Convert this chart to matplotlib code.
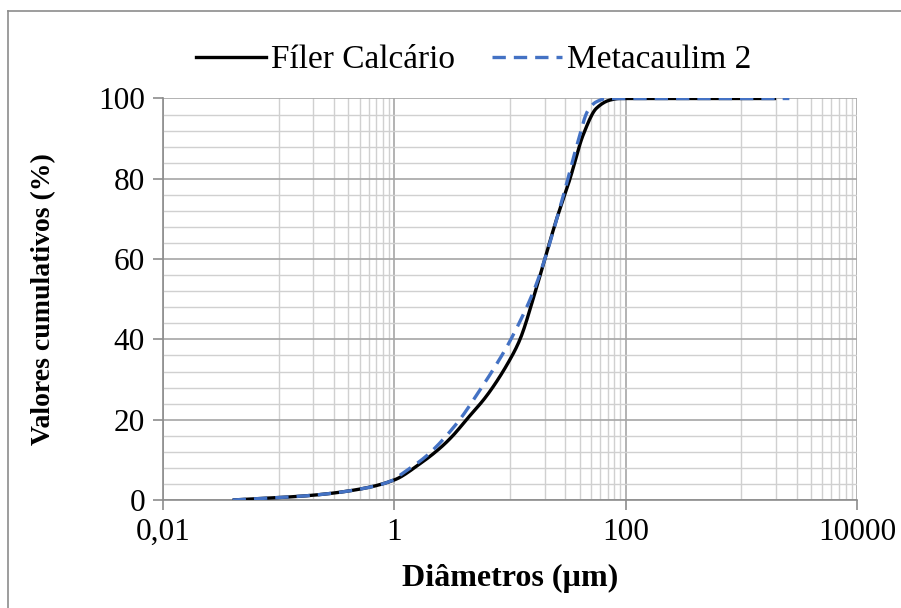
import matplotlib
matplotlib.use("Agg")
import matplotlib.pyplot as plt
from matplotlib.lines import Line2D
import numpy as np

plt.rcParams['font.family'] = ['Liberation Serif', 'DejaVu Serif']

# Particle size distributions (diameter in µm, cumulative %)
filer_d = [0.04, 0.1, 0.2, 0.5, 1.0, 1.66, 2.5, 3.2, 4.2, 6.3, 10, 12.2,
           16.4, 20, 25, 33, 43, 56, 73, 89, 100, 200, 500, 1000, 2000]
filer_v = [0, 0.6, 1.2, 2.7, 5.0, 9.0, 13.0, 16.0, 20.0, 26.0, 35.0, 40.0,
           51.5, 60, 69.5, 80, 91, 97.6, 99.6, 100, 100, 100, 100, 100, 100]

meta_d = [0.04, 0.1, 0.2, 0.5, 1.0, 1.1, 1.9, 3.45, 5.5, 8.7, 10.3,
          16.4, 20, 29.8, 37.6, 47.4, 56, 69, 100, 1000, 2600]
meta_v = [0, 0.6, 1.2, 2.7, 5.1, 6.0, 11.0, 19.0, 27.4, 36.5, 40.3,
          52.8, 60, 77.2, 88, 97.1, 99.2, 100, 100, 100, 100]

series_names = ["Fíler Calcário", "Metacaulim 2"]
x_ticks = [0.01, 1, 100, 10000]
x_tick_labels = ["0,01", "1", "100", "10000"]
y_ticks = [0, 20, 40, 60, 80, 100]


def smooth_log(d, v, n=400):
    """Monotone cubic (Fritsch-Carlson) curve through the points, in log-diameter."""
    x = np.log10(np.asarray(d, float))
    y = np.asarray(v, float)
    h = np.diff(x)
    delta = np.diff(y) / h
    m = np.zeros_like(y)
    m[0], m[-1] = delta[0], delta[-1]
    for i in range(1, len(y) - 1):
        if delta[i - 1] * delta[i] <= 0:
            m[i] = 0.0
        else:
            w1 = 2 * h[i] + h[i - 1]
            w2 = h[i] + 2 * h[i - 1]
            m[i] = (w1 + w2) / (w1 / delta[i - 1] + w2 / delta[i])
    xs = np.linspace(x[0], x[-1], n)
    idx = np.clip(np.searchsorted(x, xs) - 1, 0, len(h) - 1)
    t = (xs - x[idx]) / h[idx]
    h00 = 2 * t**3 - 3 * t**2 + 1
    h10 = t**3 - 2 * t**2 + t
    h01 = -2 * t**3 + 3 * t**2
    h11 = t**3 - t**2
    ys = (h00 * y[idx] + h10 * h[idx] * m[idx] + h01 * y[idx + 1]
          + h11 * h[idx] * m[idx + 1])
    return 10 ** xs, ys


W, H = 901, 608
fig = plt.figure(figsize=(W / 100, H / 100), dpi=100)
ax = fig.add_axes([163 / W, (H - 500) / H, (857 - 163) / W, (500 - 98.5) / H])

blue = '#4472C4'
lw = 2.4
dash = (4.0, 2.4)
fx, fy = smooth_log(filer_d, filer_v)
mx, my = smooth_log(meta_d, meta_v)
ax.plot(fx, fy, color='black', lw=lw, solid_capstyle='butt', zorder=3)
ax.plot(mx, my, color=blue, lw=lw, dashes=dash, zorder=4)

ax.set_xscale('log')
ax.set_xticks(x_ticks)
ax.set_xticklabels(x_tick_labels)
ax.set_yticks(y_ticks)

# minor grid: nine linear subdivisions inside each major interval
minor_x = [base * 10 * k for base in x_ticks[:-1] for k in range(1, 10)]
ax.set_xticks(minor_x, minor=True)
ax.set_xticklabels([], minor=True)
ax.set_yticks(np.arange(0, 101, 4), minor=True)
ax.set_xlim(0.01, 10000)
ax.set_ylim(0, 100)

ax.grid(which='major', color='#a6a6a6', lw=1.2, zorder=0)
ax.grid(which='minor', color='#d0d0d0', lw=1.0, zorder=0)
ax.set_axisbelow(True)

for s in ['top', 'right']:
    ax.spines[s].set_visible(False)
for s in ['left', 'bottom']:
    ax.spines[s].set_color('#8c8c8c')
    ax.spines[s].set_linewidth(1.2)

ax.tick_params(which='major', direction='out', length=7, width=1.2, color='#8c8c8c',
               labelsize=22.5, pad=6)
ax.tick_params(which='minor', length=0)

ax.set_xlabel('Diâmetros (µm)', fontsize=23, fontweight='bold', labelpad=12)
ax.set_ylabel('Valores cumulativos (%)', fontsize=20, fontweight='bold', labelpad=30)

handles = [Line2D([], [], color='black', lw=lw),
           Line2D([], [], color=blue, lw=lw, dashes=dash)]
fig.legend(handles, series_names, loc='center', bbox_to_anchor=(474 / W, 1 - 60 / H),
           ncol=2, frameon=False, fontsize=24, handlelength=2.1, handletextpad=0.15,
           columnspacing=1.1)

# chart area border
fig.add_artist(Line2D([8 / W, 8 / W], [0, 1 - 11 / H], transform=fig.transFigure,
                      color='#8c8c8c', lw=1.2))
fig.add_artist(Line2D([8 / W, 1], [1 - 11 / H, 1 - 11 / H], transform=fig.transFigure,
                      color='#8c8c8c', lw=1.2))

fig.savefig('out.png', dpi=100)
